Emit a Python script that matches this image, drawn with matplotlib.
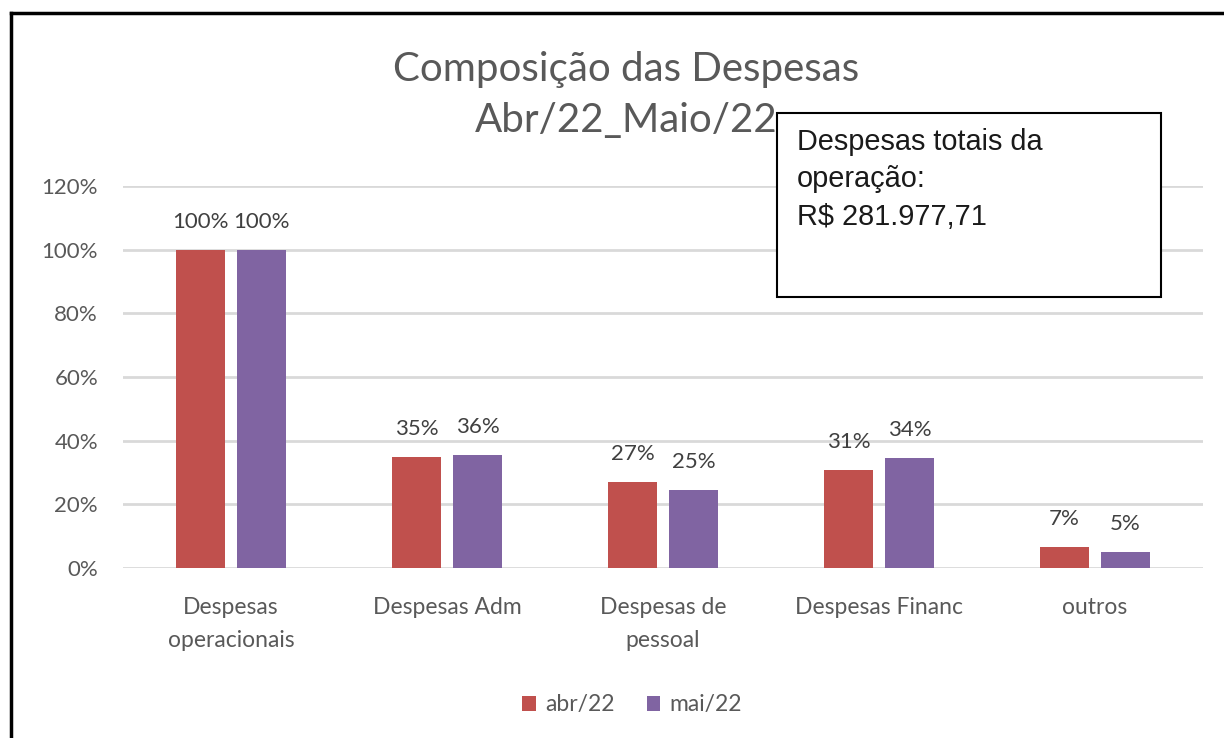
import matplotlib
matplotlib.use("Agg")
import matplotlib.pyplot as plt
from matplotlib.patches import Rectangle
from matplotlib.lines import Line2D
import numpy as np

categories = ["Despesas\noperacionais", "Despesas Adm", "Despesas de\npessoal", "Despesas Financ", "outros"]
series_names = ["abr/22", "mai/22"]
abr = [1.00, 0.349, 0.270, 0.308, 0.066]
mai = [1.00, 0.355, 0.245, 0.346, 0.050]
abr_labels = ["100%", "35%", "27%", "31%", "7%"]
mai_labels = ["100%", "36%", "25%", "34%", "5%"]
yticks = [0, 0.2, 0.4, 0.6, 0.8, 1.0, 1.2]
ytick_labels = ["0%", "20%", "40%", "60%", "80%", "100%", "120%"]
title = "Composição das Despesas\nAbr/22_Maio/22"
note = "Despesas totais da\noperação:\nR$ 281.977,71"

RED = "#C0504D"
PURPLE = "#8064A2"
GRAY = "#595959"
LABEL = "#404040"
FONT = "Lato"

W, H = 1224, 738
fig = plt.figure(figsize=(W / 100, H / 100), dpi=100)
ax = fig.add_axes([123 / W, 1 - 568 / H, (1203 - 123) / W, (568 - 186) / H])

x = np.arange(len(categories))
off = 0.141
bw = 0.227
b1 = ax.bar(x - off, abr, bw, color=RED, label=series_names[0], zorder=3)
b2 = ax.bar(x + off, mai, bw, color=PURPLE, label=series_names[1], zorder=3)

for bars, labs in ((b1, abr_labels), (b2, mai_labels)):
    for r, lab in zip(bars, labs):
        ax.annotate(lab, (r.get_x() + r.get_width() / 2, r.get_height()),
                    xytext=(0, 13), textcoords="offset points",
                    ha="center", va="bottom", fontsize=16, color=LABEL, family=FONT)

ax.set_xlim(-0.5, 4.5)
ax.set_ylim(0, 1.2)
ax.set_yticks(yticks)
ax.set_yticklabels(ytick_labels, fontsize=16, color=GRAY, family=FONT)
ax.set_xticks(x)
ax.set_xticklabels(categories, fontsize=16.5, color=GRAY, family=FONT, linespacing=1.7)
ax.tick_params(axis="both", length=0)
ax.tick_params(axis="y", pad=18)
ax.tick_params(axis="x", pad=21)
ax.grid(axis="y", color="#D9D9D9", linewidth=2, zorder=0)
for s in ax.spines.values():
    s.set_visible(False)

fig.text(626 / W, 1 - 95 / H, title, ha="center", va="center", fontsize=29,
         color=GRAY, family=FONT, fontweight="normal", linespacing=1.5)

leg = fig.legend(loc="center", bbox_to_anchor=(632 / W, 1 - 705 / H), ncol=2,
                 frameon=False, handlelength=0.6, handleheight=0.6,
                 handletextpad=0.4, columnspacing=1.4, prop={"family": FONT, "size": 16.5})
for t in leg.get_texts():
    t.set_color(GRAY)

# chart border
fig.add_artist(Line2D([11 / W, 1.0], [1 - 13 / H, 1 - 13 / H], color="black", linewidth=2.5,
                      transform=fig.transFigure))
fig.add_artist(Line2D([11 / W, 11 / W], [1 - 13 / H, 0], color="black", linewidth=2.5,
                      transform=fig.transFigure))

# note box
fig.add_artist(Rectangle((777 / W, 1 - 297 / H), (1161 - 777) / W, (297 - 113) / H,
                         transform=fig.transFigure, facecolor="white", edgecolor="black",
                         linewidth=1.5, zorder=5))
fig.text(797 / W, 1 - 128 / H, note, ha="left", va="top", fontsize=20.8,
         family="Liberation Sans", color="#1a1a1a", linespacing=1.43, zorder=6)

fig.savefig("out.png", dpi=100)
